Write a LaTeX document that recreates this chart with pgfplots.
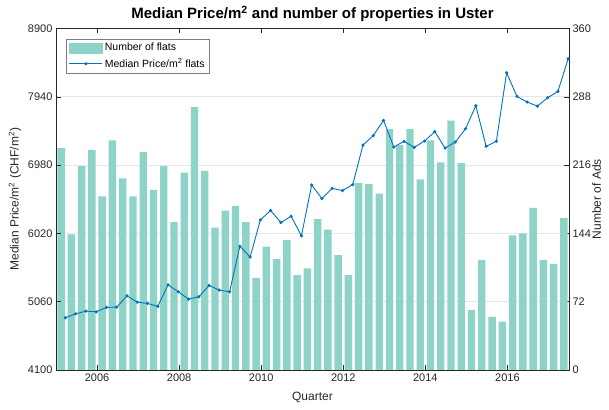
\documentclass[border=0pt]{standalone}
\usepackage{fontspec}
\setmainfont{Liberation Sans}
\usepackage{pgfplots}
\pgfplotsset{compat=1.18}
\definecolor{barc}{RGB}{141,211,199}
\definecolor{linec}{RGB}{0,114,189}
\definecolor{axc}{RGB}{38,38,38}
\definecolor{gridc}{RGB}{230,230,230}

\begin{document}
\begin{tikzpicture}
\path[use as bounding box] (-56pt,-39pt) rectangle (553pt,370pt);
\begin{axis}[
  scale only axis, width=513pt, height=341.5pt,
  xmin=2005, xmax=2017.5, ymin=0, ymax=360,
  enlargelimits=false,
  hide x axis,
  axis y line*=right,
  axis line style={axc, line width=0.5pt},
  ytick={0,72,144,216,288,360},
  ymajorgrids, grid style={gridc, line width=0.6pt},
  tick align=inside, major tick length=5pt,
  tick style={axc, line width=0.5pt},
  yticklabel style={font=\fontsize{11}{13}\selectfont, text=axc},
  /pgf/number format/assume math mode=true,
  /pgf/number format/1000 sep={},
  ylabel={Number of Ads},
  ylabel style={font=\fontsize{12}{14}\selectfont, text=axc, at={(axis description cs:1.0536,0.5)}, anchor=center},
  ybar, bar width=0.18,
]
\addplot[fill=barc, draw=none] table {
x y
2005.125 234
2005.375 143
2005.625 215
2005.875 232
2006.125 183
2006.375 242
2006.625 202
2006.875 183
2007.125 230
2007.375 190
2007.625 215
2007.875 156
2008.125 208
2008.375 277
2008.625 210
2008.875 150
2009.125 168
2009.375 173
2009.625 156
2009.875 97
2010.125 130
2010.375 117
2010.625 137
2010.875 100
2011.125 107
2011.375 159
2011.625 148
2011.875 121
2012.125 100
2012.375 197
2012.625 196
2012.875 186
2013.125 254
2013.375 237
2013.625 254
2013.875 201
2014.125 242
2014.375 219
2014.625 263
2014.875 218
2015.125 63
2015.375 116
2015.625 56
2015.875 51
2016.125 142
2016.375 144
2016.625 171
2016.875 116
2017.125 112
2017.375 160
};
\end{axis}
\begin{axis}[
  scale only axis, width=513pt, height=341.5pt,
  xmin=2005, xmax=2017.5, ymin=4100, ymax=8900,
  enlargelimits=false,
  axis line style={axc, line width=0.5pt},
  xtick={2006,2008,2010,2012,2014,2016},
  ytick={4100,5060,6020,6980,7940,8900},
  xtick pos=both, xticklabel pos=lower, ytick pos=left,
  tick align=inside, major tick length=5pt,
  tick style={axc, line width=0.5pt},
  ticklabel style={font=\fontsize{11}{13}\selectfont, text=axc},
  /pgf/number format/assume math mode=true,
  /pgf/number format/1000 sep={},
  xlabel={Quarter},
  xlabel style={font=\fontsize{12}{14}\selectfont, text=axc, at={(axis description cs:0.5,0)}, anchor=base, yshift=-30pt},
  ylabel={Median Price/m\textsuperscript{2} (CHF/m\textsuperscript{2})},
  ylabel style={font=\fontsize{12}{14}\selectfont, text=axc, at={(axis description cs:-0.080,0.5)}, anchor=center},
  title={Median Price/m\textsuperscript{2} and number of properties in Uster},
  title style={font=\bfseries\fontsize{15}{17}\selectfont, at={(axis description cs:0.5,1)}, anchor=base, yshift=4pt},
  legend style={at={(axis description cs:0.019,0.969)}, anchor=north west,
    draw=axc!60, line width=0.5pt, fill=white, font=\fontsize{10.5}{12.5}\selectfont,
    inner xsep=3pt, inner ysep=2pt, row sep=2pt},
  legend cell align=left,
]
\addlegendimage{legend image code/.code={\fill[barc] (0pt,-5pt) rectangle (33pt,5pt);}}
\addlegendentry{Number of flats}
\addplot[linec, line width=0.9pt, mark=*, mark size=1.1pt,
  legend image code/.code={\draw[linec, line width=0.9pt] (0pt,0pt) -- (33pt,0pt); \fill[linec] (16.5pt,0pt) circle (1.1pt);}] table {
x y
2005.23 4834
2005.48 4890
2005.73 4928
2005.98 4918
2006.23 4980
2006.48 4984
2006.73 5143
2006.98 5054
2007.23 5036
2007.48 4994
2007.73 5297
2007.98 5199
2008.23 5096
2008.48 5129
2008.73 5288
2008.98 5223
2009.23 5199
2009.48 5840
2009.73 5687
2009.98 6210
2010.23 6341
2010.48 6173
2010.73 6261
2010.98 5985
2011.23 6701
2011.48 6510
2011.73 6654
2011.98 6622
2012.23 6706
2012.48 7262
2012.73 7394
2012.98 7609
2013.23 7234
2013.48 7314
2013.73 7230
2013.98 7318
2014.23 7450
2014.48 7220
2014.73 7304
2014.98 7492
2015.23 7815
2015.48 7244
2015.73 7314
2015.98 8278
2016.23 7946
2016.48 7866
2016.73 7809
2016.98 7927
2017.23 8016
2017.48 8475
};
\addlegendentry{Median Price/m\textsuperscript{2} flats}
\end{axis}
\end{tikzpicture}
\end{document}
